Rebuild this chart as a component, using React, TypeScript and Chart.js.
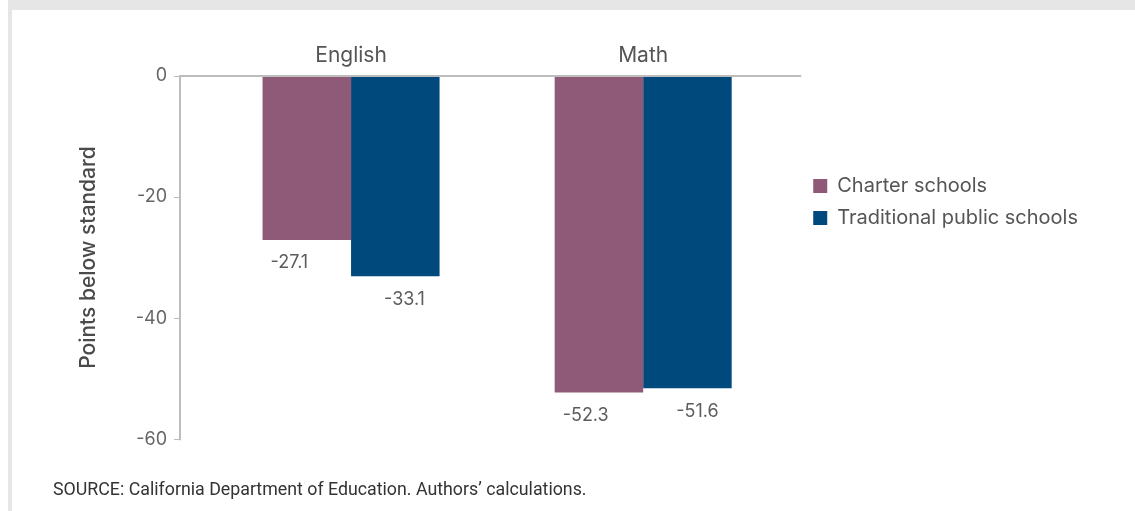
import React, { useEffect, useRef } from 'react';
import { Chart, registerables } from 'chart.js';

Chart.register(...registerables);

const categories = ['English', 'Math'];
const seriesNames = ['Charter schools', 'Traditional public schools'];
const charterValues = [-27.1, -52.3];
const traditionalValues = [-33.1, -51.6];
const yTickValues = [0, -20, -40, -60];
const axisTitle = 'Points below standard';
const sourceNote = 'SOURCE: California Department of Education. Authors\u2019 calculations.';

const FONT = "Inter, 'Open Sans', sans-serif";
const COLORS = ['#8e5a77', '#00497c'];
const LABEL_OFFSETS = [8, 33];

const axisPlugin = {
  id: 'customAxes',
  afterDatasetsDraw(chart: any) {
    const { ctx, chartArea, scales } = chart;
    const y = scales.y;
    const axisX = chartArea.left - 25;
    const top = y.getPixelForValue(yTickValues[0]);
    const bottom = y.getPixelForValue(yTickValues[yTickValues.length - 1]);
    ctx.save();
    ctx.strokeStyle = '#bdbdbd';
    ctx.lineWidth = 2;
    ctx.beginPath();
    ctx.moveTo(axisX, top - 1);
    ctx.lineTo(axisX, bottom + 1);
    ctx.moveTo(axisX - 1, top);
    ctx.lineTo(chartArea.right + 12, top);
    ctx.stroke();
    ctx.lineWidth = 1;
    ctx.beginPath();
    yTickValues.forEach((v) => {
      const py = Math.round(y.getPixelForValue(v)) + 0.5;
      ctx.moveTo(axisX - 6, py);
      ctx.lineTo(axisX, py);
    });
    ctx.stroke();
    ctx.restore();
  },
};

const labelPlugin = {
  id: 'barValueLabels',
  afterDatasetsDraw(chart: any) {
    const { ctx } = chart;
    ctx.save();
    ctx.font = `18px ${FONT}`;
    ctx.fillStyle = '#5c5c5c';
    ctx.textAlign = 'left';
    ctx.textBaseline = 'middle';
    chart.data.datasets.forEach((ds: any, i: number) => {
      const meta = chart.getDatasetMeta(i);
      meta.data.forEach((bar: any, j: number) => {
        const { x, y, width } = bar.getProps(['x', 'y', 'width'], true);
        ctx.fillText(Number(ds.data[j]).toFixed(1), x - width / 2 + LABEL_OFFSETS[i], y + 23);
      });
    });
    ctx.restore();
  },
};

export default function App() {
  const canvasRef = useRef<HTMLCanvasElement | null>(null);

  useEffect(() => {
    if (!canvasRef.current) return;
    const chart = new Chart(canvasRef.current, {
      type: 'bar',
      data: {
        labels: categories,
        datasets: [
          {
            label: seriesNames[0],
            data: charterValues,
            backgroundColor: COLORS[0],
            categoryPercentage: 0.606,
            barPercentage: 1,
          },
          {
            label: seriesNames[1],
            data: traditionalValues,
            backgroundColor: COLORS[1],
            categoryPercentage: 0.606,
            barPercentage: 1,
          },
        ],
      },
      options: {
        responsive: false,
        animation: false,
        layout: { padding: { left: 0, right: 47, top: 0, bottom: 0 } },
        plugins: {
          tooltip: { enabled: false },
          legend: {
            position: 'right',
            align: 'start',
            maxWidth: 420,
            title: { display: true, text: '', padding: { top: 142, bottom: 0 }, font: { size: 10 } },
            labels: {
              boxWidth: 14,
              boxHeight: 14,
              padding: 12,
              color: '#555555',
              font: { family: FONT, size: 20 },
            },
          },
        },
        scales: {
          x: {
            position: 'top',
            grid: { display: false, drawTicks: false },
            border: { display: false },
            ticks: { padding: 8, color: '#555555', font: { family: FONT, size: 21 } },
            afterFit: (s: any) => {
              s.height = 66;
            },
          },
          y: {
            min: -60,
            max: 0,
            grid: { display: false, drawTicks: false },
            border: { display: false },
            ticks: {
              stepSize: 20,
              padding: 38,
              color: '#666666',
              font: { family: FONT, size: 18 },
            },
            title: {
              display: true,
              text: axisTitle,
              color: '#4a4a4a',
              padding: { top: 64, bottom: 0 },
              font: { family: FONT, size: 21, weight: '500' },
            },
            afterFit: (s: any) => {
              s.width = 193;
            },
          },
          y2: {
            position: 'right',
            display: true,
            grid: { display: false, drawTicks: false },
            border: { display: false },
            ticks: { display: false },
            afterFit: (s: any) => {
              s.width = 12;
            },
          },
        },
      },
      plugins: [axisPlugin, labelPlugin],
    });
    return () => chart.destroy();
  }, []);

  return (
    <div style={{ position: 'absolute', left: 0, top: 0, width: 1135, height: 511, background: '#ffffff', overflow: 'hidden' }}>
      <div style={{ position: 'absolute', left: 8, top: 0, width: 1127, height: 10, background: '#e6e6e6' }} />
      <div style={{ position: 'absolute', left: 8, top: 0, width: 4, height: 511, background: '#e6e6e6' }} />
      <div style={{ position: 'absolute', left: 12, top: 10, width: 1123, height: 478 }}>
        <canvas ref={canvasRef} width={1123} height={478} />
      </div>
      <div
        style={{
          position: 'absolute',
          left: 53,
          top: 479,
          fontFamily: 'Roboto, sans-serif',
          fontSize: 17.8,
          lineHeight: '20px',
          color: '#333333',
          whiteSpace: 'nowrap',
        }}
      >
        {sourceNote}
      </div>
    </div>
  );
}
